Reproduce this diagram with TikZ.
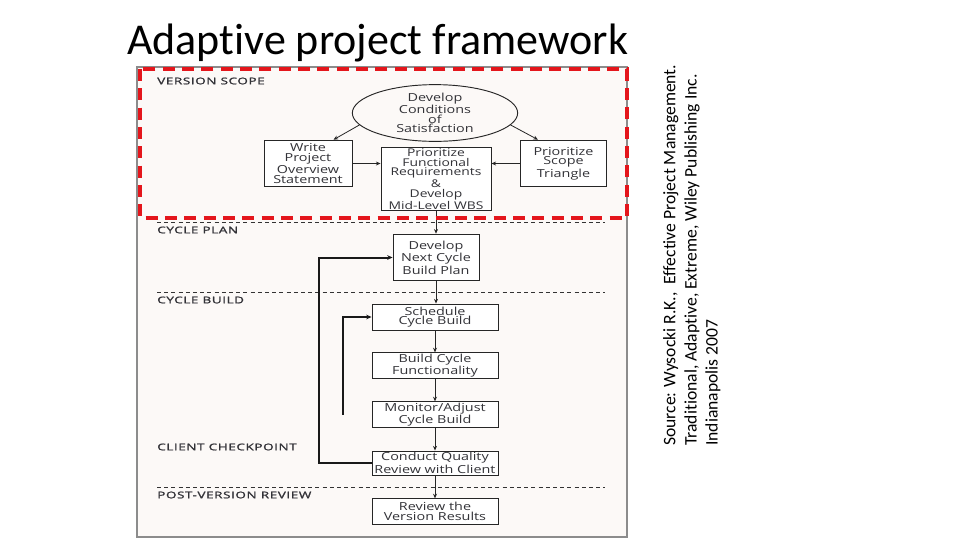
\documentclass[tikz,border=0pt]{standalone}
\usepackage{fontspec}
\setmainfont[Ligatures=NoCommon]{Carlito}
\newfontfamily\figfont[FakeStretch=1.3]{Open Sans}
\newfontfamily\lanefont[FakeStretch=1.45,LetterSpace=6,FakeBold=1.6]{Open Sans}
\usetikzlibrary{arrows.meta,calc,positioning,shapes.geometric}
\definecolor{apred}{RGB}{228,22,28}
\definecolor{apback}{RGB}{252,249,247}
\definecolor{apgray}{RGB}{140,140,140}
\definecolor{aptext}{RGB}{50,50,55}
\newcommand{\laneline}[1]{%
  \draw[black!80,line width=.6pt,dash pattern=on 3pt off 2.4pt] (157,#1) -- (605,#1);
}

\begin{document}
\begin{tikzpicture}[x=.75pt,y=-.75pt,
    stepbox/.style={draw=black!85,fill=white,line width=.7pt,align=center,inner sep=0pt,
      text=aptext,font=\figfont\fontsize{8.3}{7.2}\selectfont},
    lanelabel/.style={anchor=west,inner sep=0pt,text=aptext,font=\lanefont\fontsize{7}{7}\selectfont},
    flow/.style={black!85,line width=.6pt,-{Stealth[length=3.5pt,width=3pt]}},
    looparrow/.style={black!90,line width=1.5pt,-{Stealth[length=4pt,width=3.5pt]}}]
  \useasboundingbox (0,0) rectangle (960,540);
  % title
  \node[anchor=base west,inner sep=0pt,font=\fontsize{33}{33}\selectfont] (title) at (127,54)
    {Adaptive project framework};
  % source, turned on its side
  \node[rotate=90,anchor=north west,inner sep=0pt,align=left,
    font=\fontsize{13.2}{15.8}\selectfont] (source) at (663,446)
    {Source: Wysocki R.K.,\ \ Effective Project Management.\\
     Traditional, Adaptive, Extreme, Wiley Publishing Inc.\\
     Indianapolis 2007};
  % figure sheet
  \filldraw[fill=apback,draw=apgray,line width=1.4pt] (137,67) rectangle (627,537);
  \laneline{222}
  \laneline{292}
  \laneline{487}
  \node[lanelabel] (lscope) at (157,81) {VERSION SCOPE};
  \node[lanelabel] (lplan) at (157,230) {CYCLE PLAN};
  \node[lanelabel] (lbuild) at (157,300) {CYCLE BUILD};
  \node[lanelabel] (lcheck) at (157,447) {CLIENT CHECKPOINT};
  \node[lanelabel] (lreview) at (157,495) {POST-VERSION REVIEW};
  % version scope
  \node[stepbox,ellipse,fill=apback,minimum width=124pt,minimum height=39pt] (cond) at (435,113)
    {Develop\\Conditions\\of\\Satisfaction};
  \node[stepbox,minimum width=66pt,minimum height=35pt] (write) at (308,163.5)
    {Write\\Project\\Overview\\Statement};
  \node[stepbox,minimum width=82.5pt,minimum height=47pt,
    font=\figfont\fontsize{8}{7.2}\selectfont] (prio) at (436,179)
    {Prioritize\\Functional\\Requirements\\\&\\Develop\\Mid-Level WBS};
  \node[stepbox,minimum width=65pt,minimum height=35pt] (tri) at (563.5,163.5)
    {Prioritize\\Scope\\Triangle};
  % cycles
  \node[stepbox,minimum width=64.5pt,minimum height=35pt] (plan) at (436,257.5)
    {Develop\\Next Cycle\\Build Plan};
  \node[stepbox,minimum width=94.5pt,minimum height=19.5pt] (sched) at (435,317)
    {Schedule\\Cycle Build};
  \node[stepbox,minimum width=94.5pt,minimum height=19pt] (build) at (435,365.5)
    {Build Cycle\\Functionality};
  \node[stepbox,minimum width=94.5pt,minimum height=19pt] (monitor) at (435,414.5)
    {Monitor/Adjust\\Cycle Build};
  \node[stepbox,minimum width=94.5pt,minimum height=18pt] (review) at (435,463)
    {Conduct Quality\\Review with Client};
  \node[stepbox,minimum width=94.5pt,minimum height=19pt] (result) at (435,511.5)
    {Review the\\Version Results};
  % connectors
  \draw[flow] (cond.189) -- (write.43);
  \draw[flow] (cond.-9) -- (tri.137);
  \draw[flow] (write.east) -- (write.east -| prio.west);
  \draw[flow] (tri.west) -- (tri.west -| prio.east);
  \draw[flow] (prio.south) -- (plan.north);
  \draw[flow] (plan.south) -- (plan.south |- sched.north);
  \draw[flow] (sched.south) -- (build.north);
  \draw[flow] (build.south) -- (monitor.north);
  \draw[flow] (monitor.south) -- (review.north);
  \draw[flow] (review.south) -- (result.north);
  \draw[looparrow] (review.west) -- ++(-53,0) |- (plan.west);
  \draw[looparrow] (monitor.west) ++(-29,0) |- (sched.west);
  % marked part
  \draw[apred,line width=3pt,dash pattern=on 9pt off 5.5pt] (140,69) rectangle (627,218);
\end{tikzpicture}
\end{document}
